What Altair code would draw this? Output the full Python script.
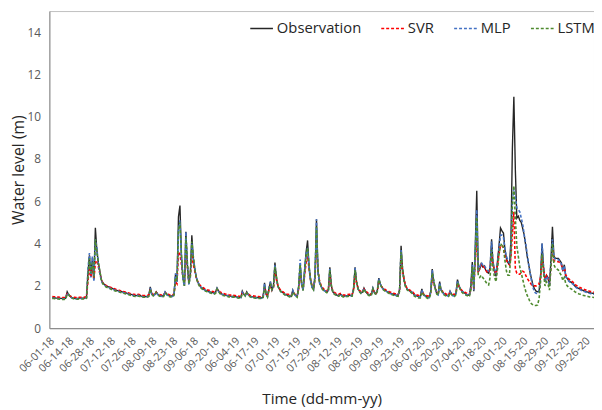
import altair as alt
import pandas as pd

tick_index = [0, 13, 27, 41, 55, 69, 83, 97, 111, 125, 138, 152, 166, 180, 194,
              208, 222, 236, 250, 263, 277, 291, 305, 319, 333, 347, 361]
tick_labels = ["06-01-18", "06-14-18", "06-28-18", "07-12-18", "07-26-18", "08-09-18",
               "08-23-18", "09-06-18", "09-20-18", "06-04-19", "06-17-19", "07-01-19",
               "07-15-19", "07-29-19", "08-12-19", "08-26-19", "09-09-19", "09-23-19",
               "06-07-20", "06-20-20", "07-04-20", "07-18-20", "08-01-20", "08-15-20",
               "08-29-20", "09-12-20", "09-26-20"]

series_names = ["Observation", "SVR", "MLP", "LSTM"]
series_colors = ["#262626", "#FF0000", "#4472C4", "#4E8A2E"]

obs_2018 = [1.45,1.44,1.43,1.42,1.42,1.41,1.41,1.40,1.40,1.42,
            1.72,1.58,1.50,1.45,1.42,1.41,1.40,1.41,1.42,1.42,
            1.42,1.42,1.43,1.45,2.60,3.45,2.50,3.30,2.30,4.75,
            3.70,3.10,2.70,2.30,2.15,2.08,2.02,1.98,1.95,1.92,
            1.89,1.86,1.83,1.80,1.78,1.76,1.74,1.72,1.70,1.68,
            1.66,1.64,1.62,1.60,1.58,1.56,1.55,1.54,1.58,1.55,
            1.51,1.50,1.50,1.50,1.50,1.55,1.95,1.60,1.55,1.60,
            1.72,1.60,1.55,1.53,1.52,1.55,1.72,1.62,1.56,1.53,
            1.52,1.52,1.60,2.55,2.20,5.27,5.80,3.40,2.40,2.00,
            4.56,3.00,2.10,2.60,4.39,3.30,2.80,2.40,2.20,2.05,
            1.95,1.90,1.85,1.80,1.78,1.75,1.72,1.70,1.68,1.66,
            1.70,1.90,1.75,1.66,1.62,1.60,1.58,1.56,1.55,1.53,
            1.52,1.50]
obs_2019 = [1.52,1.50,1.48,1.47,1.46,1.45,1.75,1.60,1.55,1.72,
            1.60,1.52,1.50,1.48,1.47,1.46,1.45,1.45,1.44,1.44,
            1.46,2.14,1.60,1.50,1.90,2.20,1.80,2.00,3.10,2.40,
            2.00,1.85,1.75,1.70,1.65,1.60,1.57,1.55,1.52,1.50,
            1.80,1.62,1.55,1.50,2.00,3.00,2.10,1.80,2.80,3.60,
            4.15,2.90,2.30,1.95,1.85,2.50,5.15,2.70,2.20,2.00,
            1.87,1.80,1.76,1.72,1.80,2.88,2.00,1.72,1.65,1.60,
            1.55,1.55,1.63,1.55,1.52,1.52,1.53,1.54,1.55,1.55,
            1.55,1.90,2.88,2.20,1.87,1.75,1.68,1.70,1.90,1.75,
            1.65,1.60,1.55,1.62,1.90,1.70,1.62,1.80,2.37,2.10,
            1.95,1.85,1.80,1.76,1.72,1.68,1.65,1.62,1.60,1.58,
            1.56,1.55,1.85,3.90,2.80,2.30,2.00,1.86,1.80,1.75,
            1.73,1.65]
obs_2020 = [1.58,1.53,1.52,1.50,1.50,1.86,1.60,1.55,1.50,1.46,
            1.46,1.75,2.80,2.20,1.90,1.65,1.60,2.20,1.80,1.70,
            1.62,1.58,1.55,1.55,1.75,1.60,1.55,1.55,1.65,2.30,
            2.00,1.85,1.75,1.70,1.65,1.60,1.58,1.55,2.00,3.13,
            1.75,3.90,6.50,2.65,2.80,3.05,2.90,2.95,2.75,2.65,
            2.60,2.90,4.20,3.00,2.70,2.45,3.20,3.90,4.74,4.60,
            4.50,3.70,3.30,3.10,3.00,4.10,8.50,10.95,7.50,5.20,
            5.30,5.10,5.00,4.70,4.40,3.90,3.40,3.00,2.60,2.30,
            2.00,1.85,1.75,1.72,1.75,2.50,4.00,2.90,2.20,2.50,
            2.40,2.00,3.25,4.80,3.40,3.30,3.30,3.30,3.20,3.10,
            2.70,3.00,2.45,2.35,2.25,2.20,2.15,2.10,2.00,1.95,
            1.90,1.87,1.84,1.80,1.77,1.75,1.72,1.70,1.68,1.66,
            1.65,1.63]

svr_2018 = [1.50,1.49,1.48,1.47,1.47,1.46,1.46,1.45,1.45,1.46,
            1.62,1.58,1.52,1.49,1.47,1.46,1.45,1.45,1.46,1.46,
            1.46,1.46,1.47,1.48,2.20,2.90,2.40,2.80,2.30,3.10,
            3.20,2.90,2.60,2.30,2.15,2.08,2.03,2.00,1.97,1.94,
            1.91,1.88,1.86,1.83,1.81,1.79,1.77,1.75,1.73,1.71,
            1.69,1.67,1.65,1.63,1.61,1.60,1.59,1.58,1.60,1.58,
            1.56,1.55,1.55,1.55,1.55,1.58,1.80,1.65,1.60,1.62,
            1.70,1.64,1.60,1.58,1.57,1.58,1.68,1.64,1.60,1.58,
            1.57,1.57,1.62,2.20,2.10,3.60,3.50,3.00,2.40,2.10,
            3.50,2.90,2.20,2.50,3.50,3.00,2.70,2.40,2.20,2.08,
            2.00,1.95,1.90,1.86,1.83,1.80,1.78,1.76,1.74,1.72,
            1.74,1.85,1.78,1.72,1.68,1.65,1.63,1.61,1.60,1.58,
            1.57,1.56]
svr_2019 = [1.56,1.55,1.53,1.52,1.51,1.50,1.68,1.62,1.58,1.66,
            1.62,1.56,1.54,1.53,1.52,1.51,1.50,1.50,1.49,1.49,
            1.50,1.90,1.65,1.55,1.80,2.00,1.80,1.90,2.60,2.30,
            2.00,1.88,1.79,1.74,1.69,1.65,1.62,1.60,1.57,1.55,
            1.72,1.64,1.58,1.55,1.85,2.60,2.10,1.85,2.50,3.10,
            3.40,2.80,2.30,2.00,1.90,2.30,4.20,2.70,2.25,2.05,
            1.92,1.85,1.81,1.77,1.82,2.50,2.00,1.77,1.70,1.65,
            1.60,1.60,1.64,1.60,1.57,1.57,1.58,1.59,1.60,1.60,
            1.60,1.80,2.50,2.15,1.90,1.79,1.73,1.74,1.85,1.78,
            1.70,1.65,1.60,1.64,1.82,1.72,1.66,1.76,2.15,2.05,
            1.96,1.88,1.84,1.80,1.77,1.73,1.70,1.67,1.65,1.63,
            1.61,1.60,1.75,3.30,2.70,2.30,2.03,1.90,1.84,1.79,
            1.77,1.70]
svr_2020 = [1.62,1.58,1.57,1.55,1.55,1.75,1.62,1.58,1.55,1.52,
            1.52,1.68,2.40,2.10,1.90,1.70,1.65,1.95,1.82,1.74,
            1.67,1.63,1.60,1.60,1.70,1.63,1.60,1.60,1.66,2.10,
            1.98,1.86,1.78,1.74,1.70,1.66,1.63,1.61,1.85,2.70,
            1.85,3.20,4.20,2.70,2.80,3.00,2.90,2.90,2.75,2.65,
            2.62,2.80,3.50,3.00,2.75,2.55,3.00,3.50,3.90,3.90,
            3.80,3.40,3.20,3.10,3.00,3.30,4.50,5.50,2.80,2.60,
            2.55,2.55,2.65,2.70,2.65,2.50,2.35,2.25,2.15,2.05,
            2.00,2.00,2.00,2.05,2.10,2.40,3.40,2.80,2.30,2.50,
            2.40,2.10,2.90,3.80,3.20,3.15,3.15,3.15,3.10,3.00,
            2.75,2.85,2.50,2.42,2.33,2.28,2.22,2.17,2.08,2.03,
            1.98,1.94,1.91,1.88,1.85,1.82,1.79,1.77,1.75,1.73,
            1.72,1.70]

mlp_2018 = [1.43,1.42,1.41,1.41,1.40,1.40,1.39,1.39,1.39,1.40,
            1.66,1.58,1.49,1.44,1.41,1.40,1.39,1.39,1.40,1.40,
            1.40,1.40,1.41,1.43,2.80,3.55,2.40,3.40,2.20,4.20,
            3.80,3.00,2.60,2.25,2.10,2.04,1.99,1.95,1.92,1.89,
            1.86,1.83,1.80,1.78,1.76,1.74,1.72,1.70,1.68,1.66,
            1.64,1.62,1.60,1.58,1.56,1.54,1.53,1.52,1.55,1.52,
            1.50,1.49,1.48,1.48,1.48,1.52,1.90,1.60,1.53,1.58,
            1.70,1.60,1.54,1.51,1.50,1.53,1.70,1.60,1.54,1.51,
            1.50,1.50,1.58,2.60,2.20,4.60,5.10,3.30,2.30,2.00,
            4.56,3.00,2.05,2.50,4.00,3.30,2.80,2.40,2.20,2.04,
            1.94,1.89,1.84,1.79,1.76,1.73,1.70,1.68,1.66,1.64,
            1.68,1.88,1.74,1.65,1.60,1.58,1.56,1.54,1.53,1.51,
            1.50,1.48]
mlp_2019 = [1.50,1.48,1.46,1.45,1.44,1.43,1.70,1.60,1.53,1.70,
            1.58,1.50,1.48,1.46,1.45,1.44,1.43,1.43,1.42,1.42,
            1.44,2.10,1.58,1.48,1.90,2.20,1.78,1.98,3.00,2.35,
            1.98,1.83,1.73,1.68,1.63,1.58,1.55,1.53,1.50,1.48,
            1.78,1.60,1.53,1.48,2.00,3.25,2.05,1.78,2.75,3.50,
            3.80,2.85,2.25,1.93,1.83,2.50,5.15,2.60,2.15,1.98,
            1.85,1.78,1.74,1.70,1.78,2.85,1.98,1.70,1.63,1.58,
            1.53,1.53,1.62,1.53,1.50,1.50,1.51,1.52,1.53,1.53,
            1.53,1.88,2.85,2.15,1.85,1.73,1.66,1.68,1.88,1.73,
            1.63,1.58,1.53,1.60,1.88,1.68,1.60,1.78,2.35,2.08,
            1.93,1.83,1.78,1.74,1.70,1.66,1.63,1.60,1.58,1.56,
            1.54,1.53,1.83,3.70,2.75,2.25,1.98,1.84,1.78,1.73,
            1.71,1.63]
mlp_2020 = [1.56,1.51,1.50,1.48,1.48,1.82,1.58,1.53,1.48,1.44,
            1.44,1.72,2.75,2.20,1.88,1.64,1.58,2.15,1.80,1.68,
            1.60,1.56,1.53,1.53,1.72,1.60,1.53,1.53,1.63,2.25,
            2.00,1.84,1.74,1.69,1.64,1.59,1.57,1.54,1.95,3.00,
            1.80,3.70,5.60,2.70,2.90,3.10,3.00,3.00,2.85,2.75,
            2.70,2.90,4.10,3.10,2.80,2.55,3.10,3.80,4.40,4.40,
            4.30,3.70,3.40,3.20,3.10,3.60,6.00,6.60,6.20,5.70,
            5.60,5.50,5.20,4.90,4.40,4.00,3.50,3.00,2.60,2.20,
            1.90,1.70,1.65,1.63,1.70,2.40,4.00,2.85,2.20,2.45,
            2.35,2.00,3.20,4.20,3.35,3.25,3.25,3.25,3.15,3.05,
            2.70,2.95,2.42,2.32,2.22,2.17,2.12,2.07,1.97,1.92,
            1.87,1.84,1.81,1.77,1.74,1.72,1.69,1.67,1.65,1.63,
            1.62,1.60]

lstm_2018 = [1.41,1.40,1.39,1.38,1.38,1.37,1.37,1.36,1.36,1.37,
             1.60,1.60,1.50,1.44,1.40,1.38,1.37,1.37,1.38,1.38,
             1.38,1.38,1.39,1.41,2.40,3.30,2.60,3.10,2.40,4.20,
             3.60,3.10,2.70,2.30,2.10,2.02,1.96,1.92,1.89,1.86,
             1.83,1.80,1.77,1.75,1.73,1.71,1.69,1.67,1.65,1.63,
             1.61,1.59,1.57,1.55,1.53,1.51,1.50,1.49,1.52,1.50,
             1.48,1.47,1.46,1.46,1.46,1.50,1.85,1.62,1.52,1.56,
             1.68,1.60,1.52,1.49,1.48,1.50,1.66,1.60,1.53,1.49,
             1.48,1.48,1.55,2.40,2.25,4.60,5.00,3.50,2.40,2.00,
             4.30,3.10,2.10,2.40,4.10,3.40,2.80,2.40,2.15,2.00,
             1.90,1.85,1.80,1.76,1.73,1.70,1.67,1.65,1.63,1.61,
             1.64,1.85,1.74,1.63,1.58,1.55,1.53,1.51,1.50,1.48,
             1.47,1.46]
lstm_2019 = [1.48,1.46,1.44,1.43,1.42,1.41,1.62,1.62,1.52,1.66,
             1.60,1.50,1.46,1.44,1.43,1.42,1.41,1.41,1.40,1.40,
             1.41,1.95,1.66,1.48,1.80,2.10,1.82,1.92,2.90,2.45,
             2.00,1.82,1.72,1.66,1.61,1.56,1.53,1.51,1.48,1.46,
             1.70,1.62,1.52,1.46,1.90,3.00,2.15,1.78,2.60,3.40,
             3.80,2.95,2.30,1.93,1.82,2.30,4.80,2.75,2.20,1.98,
             1.84,1.76,1.72,1.68,1.74,2.75,2.05,1.70,1.61,1.56,
             1.51,1.51,1.58,1.52,1.48,1.48,1.49,1.50,1.51,1.51,
             1.51,1.80,2.75,2.20,1.85,1.72,1.64,1.66,1.85,1.73,
             1.62,1.56,1.51,1.57,1.85,1.68,1.58,1.74,2.30,2.10,
             1.92,1.82,1.76,1.72,1.68,1.64,1.61,1.58,1.56,1.54,
             1.52,1.51,1.75,3.60,2.80,2.25,1.96,1.82,1.76,1.71,
             1.68,1.58]
lstm_2020 = [1.52,1.47,1.45,1.43,1.43,1.70,1.60,1.50,1.45,1.41,
             1.41,1.62,2.60,2.25,1.88,1.62,1.55,2.05,1.82,1.66,
             1.57,1.53,1.50,1.50,1.66,1.60,1.50,1.50,1.58,2.15,
             2.00,1.80,1.70,1.64,1.59,1.55,1.52,1.49,1.80,2.90,
             1.90,3.50,5.26,2.50,2.40,2.50,2.40,2.30,2.20,2.10,
             2.05,2.40,3.70,2.80,2.40,2.20,2.80,3.50,3.90,4.00,
             3.80,3.20,2.70,2.50,2.50,3.50,5.80,6.74,5.20,3.90,
             3.40,2.90,2.60,2.30,2.00,1.75,1.55,1.40,1.22,1.15,
             1.10,1.07,1.07,1.10,1.40,2.20,3.50,2.60,2.00,2.20,
             2.10,1.80,2.90,4.00,3.00,2.85,2.80,2.75,2.60,2.50,
             2.25,2.40,2.10,2.00,1.93,1.88,1.84,1.80,1.73,1.69,
             1.65,1.62,1.60,1.57,1.55,1.53,1.51,1.50,1.48,1.47,
             1.46,1.45]

series_values = {
    "Observation": obs_2018 + obs_2019 + obs_2020,
    "SVR": svr_2018 + svr_2019 + svr_2020,
    "MLP": mlp_2018 + mlp_2019 + mlp_2020,
    "LSTM": lstm_2018 + lstm_2019 + lstm_2020,
}

FONT = "Open Sans"
label_expr = ("[" + ",".join("'" + s + "'" for s in tick_labels) + "][indexof(["
              + ",".join(str(v) for v in tick_index) + "], datum.value)]")

x_scale = alt.Scale(domain=[-2, 365], nice=False, zero=False)
y_scale = alt.Scale(domain=[0, 15], nice=False)
color_scale = alt.Scale(domain=series_names, range=series_colors)
dash_scale = alt.Scale(domain=series_names, range=[[1, 0], [3, 2], [3, 2], [3, 2]])

x_axis = alt.Axis(values=tick_index, labelExpr=label_expr, labelAngle=-45,
                  labelAlign="right", labelBaseline="middle", labelFontSize=11,
                  labelColor="#595959", labelPadding=11, ticks=False, grid=False,
                  domainColor="#7f7f7f", labelOverlap=False, labelFlush=False,
                  title="Time (dd-mm-yy)", titleFontSize=15.5, titleFontWeight="normal",
                  titleColor="#262626", titleY=71, titleBaseline="middle")
y_axis = alt.Axis(values=[0, 2, 4, 6, 8, 10, 12, 14], labelFontSize=12,
                  labelColor="#595959", labelPadding=9, ticks=False, grid=False,
                  domainColor="#8c8c8c", title="Water level (m)", titleFontSize=16,
                  titleFontWeight="normal", titleColor="#262626", titleX=-31,
                  titleBaseline="middle")

legend = alt.Legend(orient="none", legendX=203, legendY=5, direction="horizontal",
                    title=None, labelFontSize=15, labelColor="#262626",
                    symbolType="stroke", symbolSize=530, symbolStrokeWidth=1.5,
                    columnPadding=16, labelOffset=3, labelFont=FONT)

layers = []
for k, name in enumerate(series_names):
    vals = series_values[name]
    df = pd.DataFrame({"i": list(range(len(vals))), "v": vals, "series": name})
    layers.append(
        alt.Chart(df).mark_line(strokeWidth=1.4 if k == 0 else 1.6, clip=True).encode(
            x=alt.X("i:Q", scale=x_scale, axis=x_axis),
            y=alt.Y("v:Q", scale=y_scale, axis=y_axis),
            color=alt.Color("series:N", scale=color_scale, legend=legend),
            strokeDash=alt.StrokeDash("series:N", scale=dash_scale, legend=legend),
        )
    )

chart = alt.layer(*layers).properties(
    width=553, height=322,
    autosize=alt.AutoSizeParams(type="none"),
    padding={"left": 42, "top": 0, "right": 0, "bottom": 82},
).configure(font=FONT).configure_view(stroke="#bfbfbf", strokeWidth=1)

chart.save("out.html", embed_options={"renderer": "svg", "actions": False})
